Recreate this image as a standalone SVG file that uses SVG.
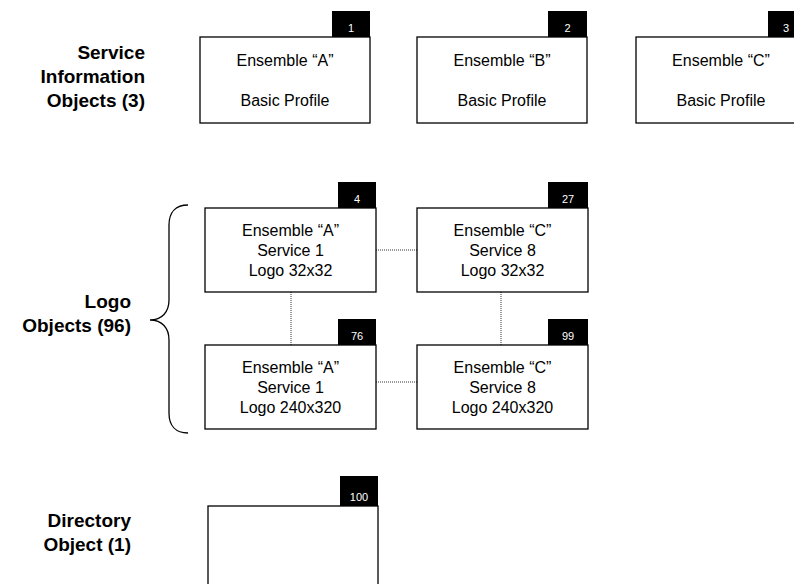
<svg xmlns="http://www.w3.org/2000/svg" width="794" height="584" viewBox="0 0 794 584">
<style>
.lbl{font-family:"Liberation Sans",Arial,sans-serif;font-weight:bold;font-size:19px;fill:#000;text-anchor:end}
.txt{font-family:"Liberation Sans",Arial,sans-serif;font-size:16px;fill:#000;text-anchor:middle}
.num{font-family:"Liberation Sans",Arial,sans-serif;font-size:11px;fill:#fff;text-anchor:middle}
.box{fill:#fff;stroke:#000;stroke-width:1.3}
.tag{fill:#000}
.dot{stroke:#333;stroke-width:1;stroke-dasharray:1 1;fill:none}
</style>
<rect width="794" height="584" fill="#fff"/>
<g id="labels">
<text class="lbl" x="145" y="59">Service</text>
<text class="lbl" x="145" y="83">Information</text>
<text class="lbl" x="145" y="107">Objects (3)</text>
<text class="lbl" x="131" y="308">Logo</text>
<text class="lbl" x="131" y="332">Objects (96)</text>
<text class="lbl" x="131" y="527">Directory</text>
<text class="lbl" x="131" y="551">Object (1)</text>
</g>
<g id="brace">
<path d="M188,205 C176,205 169,212 169,225 L169,300 C169,312 162,320 150,320 C162,320 169,328 169,340 L169,413 C169,426 176,433 188,433" fill="none" stroke="#000" stroke-width="1.3"/>
</g>
<g id="connectors">
<line class="dot" x1="376" y1="250" x2="417" y2="250"/>
<line class="dot" x1="376" y1="382" x2="417" y2="382"/>
<line class="dot" x1="291" y1="292" x2="291" y2="345"/>
<line class="dot" x1="501" y1="292" x2="501" y2="345"/>
</g>
<g id="obj1">
<rect class="tag" x="332" y="11" width="38" height="26"/>
<text class="num" x="351" y="32">1</text>
<rect class="box" x="200" y="37" width="170" height="86"/>
<text class="txt" x="285" y="66">Ensemble “A”</text>
<text class="txt" x="285" y="106">Basic Profile</text>
</g>
<g id="obj2">
<rect class="tag" x="548" y="11" width="39" height="26"/>
<text class="num" x="567.5" y="32">2</text>
<rect class="box" x="417" y="37" width="170" height="86"/>
<text class="txt" x="502" y="66">Ensemble “B”</text>
<text class="txt" x="502" y="106">Basic Profile</text>
</g>
<g id="obj3">
<rect class="tag" x="768" y="11" width="39" height="26"/>
<text class="num" x="786" y="32">3</text>
<rect class="box" x="636" y="37" width="170" height="86"/>
<text class="txt" x="721" y="66">Ensemble “C”</text>
<text class="txt" x="721" y="106">Basic Profile</text>
</g>
<g id="obj4">
<rect class="tag" x="338" y="182" width="38" height="26"/>
<text class="num" x="357" y="203">4</text>
<rect class="box" x="205" y="208" width="171" height="84"/>
<text class="txt" x="290.5" y="236">Ensemble “A”</text>
<text class="txt" x="290.5" y="256">Service 1</text>
<text class="txt" x="290.5" y="276">Logo 32x32</text>
</g>
<g id="obj27">
<rect class="tag" x="548" y="182" width="40" height="26"/>
<text class="num" x="568" y="203">27</text>
<rect class="box" x="417" y="208" width="171" height="84"/>
<text class="txt" x="502.5" y="236">Ensemble “C”</text>
<text class="txt" x="502.5" y="256">Service 8</text>
<text class="txt" x="502.5" y="276">Logo 32x32</text>
</g>
<g id="obj76">
<rect class="tag" x="338" y="319" width="38" height="26"/>
<text class="num" x="357" y="340">76</text>
<rect class="box" x="205" y="345" width="171" height="84"/>
<text class="txt" x="290.5" y="373">Ensemble “A”</text>
<text class="txt" x="290.5" y="393">Service 1</text>
<text class="txt" x="290.5" y="413">Logo 240x320</text>
</g>
<g id="obj99">
<rect class="tag" x="548" y="319" width="40" height="26"/>
<text class="num" x="568" y="340">99</text>
<rect class="box" x="417" y="345" width="171" height="84"/>
<text class="txt" x="502.5" y="373">Ensemble “C”</text>
<text class="txt" x="502.5" y="393">Service 8</text>
<text class="txt" x="502.5" y="413">Logo 240x320</text>
</g>
<g id="obj100">
<rect class="tag" x="340" y="476" width="38" height="30"/>
<text class="num" x="359" y="501">100</text>
<rect class="box" x="208" y="506" width="170" height="90"/>
</g>
</svg>
